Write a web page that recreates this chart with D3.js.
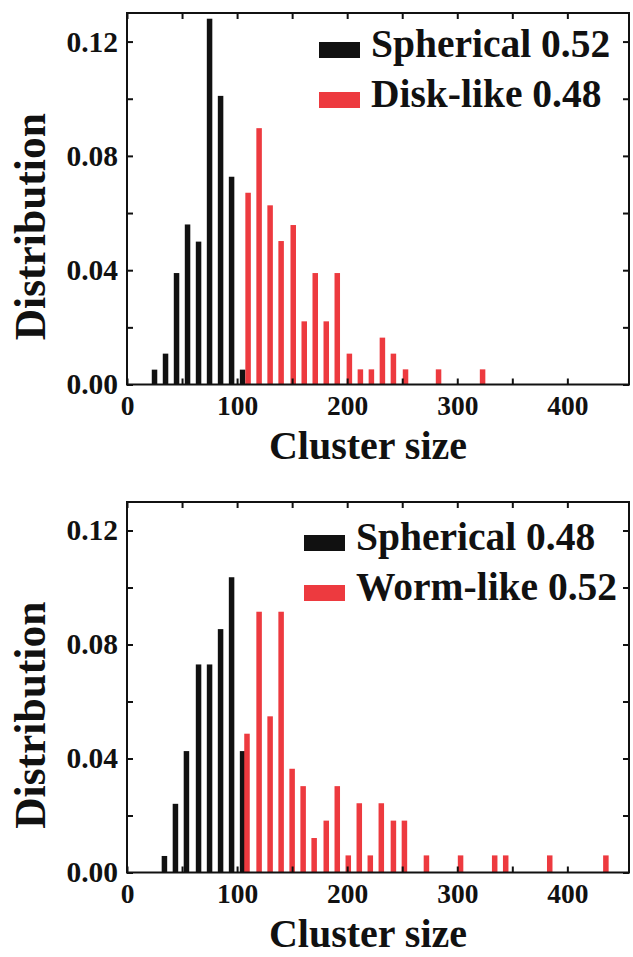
<!DOCTYPE html>
<html>
<head>
<meta charset="utf-8">
<script src="https://cdn.jsdelivr.net/npm/d3@7"></script>
<style>
  body { margin: 0; background: #fff; }
</style>
</head>
<body>
<div id="chart"></div>
<script>
// cluster size bins (bar centres) and distribution values
const topSphericalX = [25, 35, 45, 55, 65, 75, 85, 95, 105];
const topSphericalY = [0.0052, 0.0108, 0.039, 0.056, 0.050, 0.128, 0.101, 0.0727, 0.0052];
const topDiskX = [110, 120, 130, 140, 151, 161, 171, 181, 191, 202, 212, 222, 232, 242, 253, 283, 323];
const topDiskY = [0.0671, 0.0897, 0.0627, 0.0502, 0.0558, 0.0221, 0.039, 0.0221, 0.039, 0.0108,
  0.0053, 0.0053, 0.0164, 0.0108, 0.0053, 0.0053, 0.0053];

const botSphericalX = [34, 44, 54, 65, 75, 85, 95, 105];
const botSphericalY = [0.0058, 0.0241, 0.0426, 0.073, 0.073, 0.0854, 0.1036, 0.0426];
const botWormX = [109, 120, 130, 140, 150, 160, 170, 181, 191, 201, 211, 221, 231, 242, 252,
  272, 303, 334, 344, 384, 435];
const botWormY = [0.0487, 0.0915, 0.0548, 0.0915, 0.0364, 0.0303, 0.0121, 0.0182, 0.0303, 0.006,
  0.0243, 0.006, 0.0243, 0.0182, 0.0182, 0.006, 0.006, 0.006, 0.006, 0.006, 0.006];

const topLegend = ["Spherical 0.52", "Disk-like 0.48"];
const botLegend = ["Spherical 0.48", "Worm-like 0.52"];

const xTicks = [0, 50, 100, 150, 200, 250, 300, 350, 400];
const yTicks = [0, 0.02, 0.04, 0.06, 0.08, 0.10, 0.12];

const width = 633;
const height = 957;
const black = "#111111";
const red = "#ed3a3f";
const font = "'Liberation Serif', 'Times New Roman', Times, serif";

const svg = d3.select("#chart")
  .append("svg")
  .attr("width", width)
  .attr("height", height);

const panels = [
  {
    top: 13, bottom: 384.5,
    series: [
      { xs: topSphericalX, ys: topSphericalY, color: black },
      { xs: topDiskX, ys: topDiskY, color: red },
    ],
    legend: topLegend, legendX: 319, legendY: 42,
  },
  {
    top: 502, bottom: 872.5,
    series: [
      { xs: botSphericalX, ys: botSphericalY, color: black },
      { xs: botWormX, ys: botWormY, color: red },
    ],
    legend: botLegend, legendX: 304, legendY: 535,
  },
];

const left = 127;
const right = 629;

const label = (sel, size) =>
  sel.attr("font-family", font).attr("font-weight", "bold").attr("font-size", size).attr("fill", black);

panels.forEach((p) => {
  const x = d3.scaleLinear().domain([0, 456]).range([left, right]);
  const y = d3.scaleLinear().domain([0, 0.13]).range([p.bottom, p.top]);
  const g = svg.append("g");
  const barW = x(5) - x(0);

  p.series.forEach((s) => {
    g.selectAll(null)
      .data(s.xs.map((v, i) => ({ x: v, y: s.ys[i] })))
      .enter()
      .append("rect")
      .attr("x", (d) => x(d.x) - barW / 2)
      .attr("y", (d) => y(d.y))
      .attr("width", barW)
      .attr("height", (d) => y(0) - y(d.y))
      .attr("fill", s.color);
  });

  const fmtY = (d) => (Math.round(d * 100) % 4 === 0 ? d3.format(".2f")(d) : "");
  const fmtX = (d) => (d % 100 === 0 ? d : "");

  const styleAxis = (sel, size) => {
    sel.select(".domain").remove();
    sel.selectAll("line").attr("stroke", black).attr("stroke-width", 2);
    sel.selectAll("text").call(label, size);
  };

  g.append("g")
    .attr("transform", `translate(${left},0)`)
    .call(d3.axisLeft(y).tickValues(yTicks).tickFormat(fmtY).tickSizeInner(-6).tickSizeOuter(0).tickPadding(9))
    .call(styleAxis, 29.5);

  g.append("g")
    .attr("transform", `translate(${right},0)`)
    .call(d3.axisRight(y).tickValues(yTicks).tickFormat("").tickSizeInner(-6).tickSizeOuter(0))
    .call(styleAxis, 29.5);

  g.append("g")
    .attr("transform", `translate(0,${p.bottom})`)
    .call(d3.axisBottom(x).tickValues(xTicks).tickFormat(fmtX).tickSizeInner(-6).tickSizeOuter(0).tickPadding(11))
    .call(styleAxis, 27.5);

  g.append("g")
    .attr("transform", `translate(0,${p.top})`)
    .call(d3.axisTop(x).tickValues(xTicks).tickFormat("").tickSizeInner(-6).tickSizeOuter(0))
    .call(styleAxis, 27.5);

  // frame
  g.append("rect")
    .attr("x", left)
    .attr("y", p.top)
    .attr("width", right - left)
    .attr("height", p.bottom - p.top)
    .attr("fill", "none")
    .attr("stroke", black)
    .attr("stroke-width", 2);

  // axis titles
  g.append("text")
    .attr("x", 368)
    .attr("y", p.bottom + 74)
    .attr("text-anchor", "middle")
    .call(label, 40)
    .text("Cluster size");

  g.append("text")
    .attr("transform", `translate(45,${(p.top + p.bottom) / 2 + 28}) rotate(-90)`)
    .attr("text-anchor", "middle")
    .call(label, 43.5)
    .text("Distribution");

  // legend
  const colors = [black, red];
  p.legend.forEach((name, i) => {
    const ly = p.legendY + i * 50;
    g.append("rect")
      .attr("x", p.legendX)
      .attr("y", ly)
      .attr("width", 41)
      .attr("height", 16)
      .attr("fill", colors[i]);
    g.append("text")
      .attr("x", p.legendX + 52)
      .attr("y", ly + 15)
      .call(label, 39.5)
      .text(name);
  });
});
</script>
</body>
</html>
